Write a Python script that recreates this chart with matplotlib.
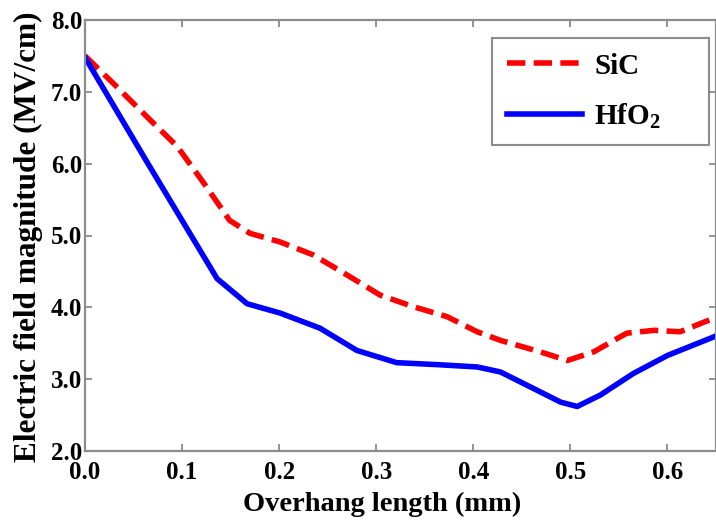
import matplotlib.pyplot as plt

# overhang length (mm) and field magnitude (MV/cm)
sic_x = [0.0, 0.029, 0.064, 0.095, 0.125, 0.149, 0.170, 0.201, 0.235, 0.270,
         0.304, 0.338, 0.373, 0.404, 0.428, 0.469, 0.497, 0.524, 0.558,
         0.586, 0.613, 0.648]
sic_y = [7.50, 7.12, 6.65, 6.24, 5.68, 5.21, 5.03, 4.91, 4.73, 4.45,
         4.17, 4.01, 3.87, 3.66, 3.54, 3.38, 3.26, 3.38, 3.64,
         3.68, 3.66, 3.85]

hfo2_x = [0.0, 0.064, 0.136, 0.167, 0.201, 0.242, 0.280, 0.321, 0.366,
          0.404, 0.428, 0.462, 0.490, 0.507, 0.531, 0.565, 0.600, 0.648]
hfo2_y = [7.48, 6.02, 4.40, 4.05, 3.92, 3.71, 3.40, 3.23, 3.20,
          3.17, 3.10, 2.87, 2.68, 2.62, 2.78, 3.08, 3.33, 3.59]

x_ticks = [0.0, 0.1, 0.2, 0.3, 0.4, 0.5, 0.6]
y_ticks = [2.0, 3.0, 4.0, 5.0, 6.0, 7.0, 8.0]

plt.rcParams.update({
    "font.family": "Liberation Serif",
    "font.weight": "bold",
    "mathtext.fontset": "custom",
    "mathtext.rm": "Liberation Serif:bold",
    "mathtext.it": "Liberation Serif:bold",
    "mathtext.bf": "Liberation Serif:bold",
})

fig = plt.figure(figsize=(7.16, 5.21), dpi=100)
ax = fig.add_axes([85 / 716, 70 / 521, 631 / 716, 431 / 521])

ax.plot(sic_x, sic_y, color="#ff0000", lw=4.0, ls=(0, (3.3, 1.5)), label="SiC")
ax.plot(hfo2_x, hfo2_y, color="#0000ff", lw=4.0, label="HfO$_2$")

ax.set_xlim(0, 0.65)
ax.set_ylim(2.0, 8.0)
ax.set_xticks(x_ticks)
ax.set_xticklabels([f"{t:.1f}" for t in x_ticks])
ax.set_yticks(y_ticks)
ax.set_yticklabels([f"{t:.1f}" for t in y_ticks])
ax.tick_params(direction="in", length=5, width=1.2, color="#808080",
               labelsize=18, top=True, right=True)
ax.tick_params(axis="x", pad=7)
ax.tick_params(axis="y", pad=2)
for lbl in ax.get_xticklabels() + ax.get_yticklabels():
    lbl.set_fontweight("bold")
for s in ax.spines.values():
    s.set_color("#8c8c8c")
    s.set_linewidth(1.6)

ax.set_xlabel("Overhang length (mm)", fontsize=20.5, fontweight="bold")
ax.xaxis.set_label_coords(0.471, -0.095)
ax.set_ylabel("Electric field magnitude (MV/cm)", fontsize=22.5, fontweight="bold")
ax.yaxis.set_label_coords(-0.067, 0.497)

leg = ax.legend(loc="upper left", bbox_to_anchor=(0.645, 0.71, 0.344, 0.248),
                mode="expand", borderaxespad=0, fontsize=21, frameon=True,
                fancybox=False, handlelength=2.6, borderpad=0.5,
                labelspacing=0.75, handletextpad=0.4)
leg.get_frame().set_edgecolor("#707070")
leg.get_frame().set_linewidth(1.5)

fig.savefig("out.png", dpi=100)
